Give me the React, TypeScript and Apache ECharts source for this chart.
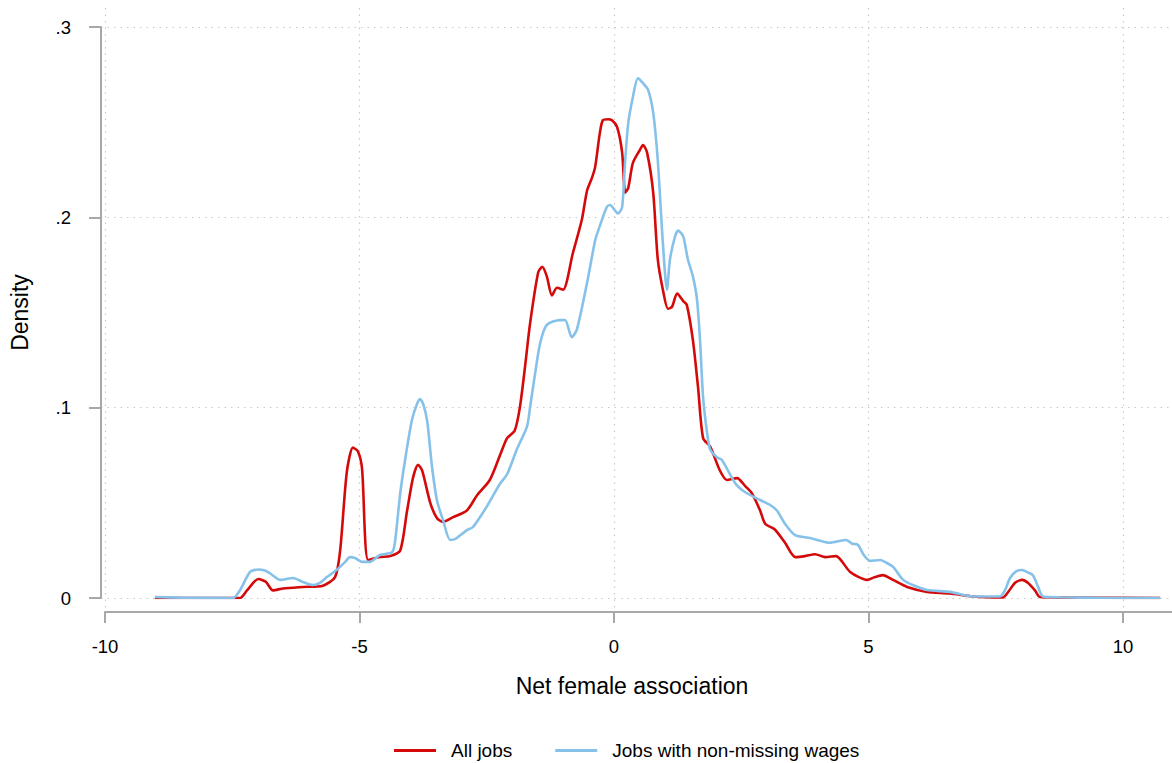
import React, { useEffect, useRef } from "react";
import * as echarts from "echarts";

// Net female association (x) and density (y)
const xAll = [
  -9.02, -7.35, -7.21, -6.99, -6.84, -6.7, -6.5, -6.11, -5.72, -5.48, -5.38, -5.25, -5.13, -5.03, -4.95,
  -4.83, -4.6, -4.4, -4.2, -4.07, -3.95, -3.85, -3.77, -3.61, -3.48, -3.36, -3.16, -2.89, -2.69, -2.44,
  -2.24, -2.1, -1.95, -1.85, -1.75, -1.65, -1.49, -1.41, -1.32, -1.22, -1.12, -1.0, -0.81, -0.63, -0.53,
  -0.43, -0.37, -0.28, -0.22, -0.12, -0.04, 0.06, 0.16, 0.22, 0.28, 0.37, 0.51, 0.57, 0.65, 0.77,
  0.86, 0.96, 1.06, 1.14, 1.24, 1.36, 1.43, 1.55, 1.65, 1.75, 1.89, 2.08, 2.22, 2.42, 2.57,
  2.71, 2.87, 2.97, 3.16, 3.36, 3.56, 3.75, 3.95, 4.15, 4.36, 4.64, 4.97, 5.13, 5.28, 5.48,
  5.76, 6.15, 6.6, 7.05, 7.64, 7.74, 7.88, 8.02, 8.13, 8.27, 8.37, 8.76, 9.55, 10.73,
];
const yAll = [
  0, 0, 0.004, 0.01, 0.0085, 0.004, 0.005, 0.0058, 0.0065, 0.011, 0.025, 0.066, 0.079, 0.077, 0.068,
  0.02, 0.0215, 0.022, 0.025, 0.045, 0.063, 0.07, 0.067, 0.05, 0.042, 0.04, 0.0425, 0.046, 0.054, 0.062,
  0.075, 0.084, 0.088, 0.1, 0.121, 0.144, 0.171, 0.174, 0.169, 0.159, 0.163, 0.162, 0.181, 0.199, 0.214,
  0.221, 0.2265, 0.244, 0.251, 0.2515, 0.251, 0.2475, 0.234, 0.213, 0.2155, 0.2285, 0.2355, 0.238, 0.234, 0.213,
  0.178, 0.162, 0.152, 0.153, 0.16, 0.156, 0.154, 0.1355, 0.111, 0.084, 0.0795, 0.067, 0.062, 0.063, 0.059,
  0.055, 0.046, 0.039, 0.036, 0.029, 0.0215, 0.022, 0.023, 0.0215, 0.022, 0.0137, 0.0095, 0.011, 0.012, 0.0095,
  0.0058, 0.0032, 0.0024, 0.0008, 0.0003, 0.003, 0.008, 0.0095, 0.008, 0.004, 0.0005, 0.0003, 0.0001, 0,
];

const xWages = [
  -9.02, -8.53, -7.49, -7.35, -7.15, -6.99, -6.86, -6.76, -6.56, -6.31, -6.11, -5.91, -5.78, -5.64, -5.44,
  -5.28, -5.19, -5.09, -4.95, -4.79, -4.6, -4.36, -4.3, -4.2, -4.09, -3.97, -3.87, -3.81, -3.75, -3.67,
  -3.58, -3.48, -3.36, -3.22, -3.12, -2.89, -2.77, -2.5, -2.24, -2.1, -1.91, -1.71, -1.65, -1.55, -1.45,
  -1.32, -1.06, -0.96, -0.83, -0.73, -0.53, -0.37, -0.31, -0.22, -0.14, -0.08, 0.08, 0.16, 0.22, 0.28,
  0.37, 0.47, 0.57, 0.67, 0.77, 0.86, 0.96, 1.04, 1.1, 1.2, 1.26, 1.36, 1.45, 1.55, 1.63,
  1.69, 1.75, 1.83, 1.89, 2.02, 2.12, 2.32, 2.42, 2.57, 2.87, 3.06, 3.2, 3.36, 3.56, 3.85,
  4.24, 4.56, 4.68, 4.79, 4.91, 5.03, 5.23, 5.36, 5.48, 5.68, 5.87, 6.15, 6.6, 7.05, 7.58,
  7.68, 7.78, 7.9, 8.02, 8.13, 8.23, 8.33, 8.43, 8.76, 9.55, 10.73,
];
const yWages = [
  0.0005, 0.0002, 0, 0.004, 0.0137, 0.015, 0.0145, 0.013, 0.0095, 0.0105, 0.0084, 0.0068, 0.0079, 0.011, 0.015,
  0.019, 0.0215, 0.021, 0.019, 0.019, 0.0226, 0.024, 0.03, 0.055, 0.075, 0.0935, 0.102, 0.1045, 0.102, 0.093,
  0.07, 0.0515, 0.041, 0.0305, 0.031, 0.0357, 0.0373, 0.048, 0.06, 0.065, 0.078, 0.09, 0.1, 0.118, 0.134,
  0.1435, 0.146, 0.146, 0.137, 0.141, 0.1655, 0.188, 0.193, 0.2, 0.2055, 0.2065, 0.202, 0.2055, 0.23, 0.2495,
  0.263, 0.273, 0.2705, 0.267, 0.255, 0.23, 0.1865, 0.162, 0.178, 0.19, 0.193, 0.19, 0.178, 0.169, 0.157,
  0.1355, 0.1055, 0.0865, 0.078, 0.074, 0.0725, 0.063, 0.059, 0.0557, 0.0515, 0.049, 0.046, 0.039, 0.033, 0.0315,
  0.029, 0.0305, 0.0285, 0.028, 0.0225, 0.0195, 0.02, 0.0184, 0.0165, 0.0095, 0.0068, 0.0042, 0.0032, 0.0008, 0.0008,
  0.004, 0.0105, 0.014, 0.0147, 0.0135, 0.012, 0.006, 0.0008, 0.0004, 0.0001, 0,
];

const xTicks = [-10, -5, 0, 5, 10];
const yTickLabels: Record<string, string> = { "0": "0", "0.1": ".1", "0.2": ".2", "0.3": ".3" };
const seriesNames = ["All jobs", "Jobs with non-missing wages"];

const FONT = "'Liberation Sans', Arial, sans-serif";
const GRID_COLOR = "#c9c9c9";
const AXIS_COLOR = "#a8a8a8";

export default function App() {
  const ref = useRef<HTMLDivElement>(null);
  useEffect(() => {
    if (!ref.current) return;
    const chart = echarts.init(ref.current, undefined, { renderer: "svg" });
    const pxPerUnit = 1018 / 20;
    const dataMax = -10 + 1065 / pxPerUnit;
    const dotted = { color: GRID_COLOR, width: 1.2, type: [1.5, 5] as number[] };
    chart.setOption({
      animation: false,
      backgroundColor: "#ffffff",
      textStyle: { fontFamily: FONT },
      grid: [
        { left: 105, top: 27, width: 1065, height: 571 }, // data
        { left: 105, top: 8, width: 1018, height: 604 }, // vertical grid + x ticks
        { left: 105, top: 8, width: 1067, height: 604 }, // long x axis line
        { left: 92, top: 27, width: 1078, height: 571 }, // horizontal grid + y axis
      ],
      xAxis: [
        { gridIndex: 0, type: "value", min: -10, max: dataMax, show: false },
        {
          gridIndex: 1,
          type: "value",
          min: xTicks[0],
          max: xTicks[xTicks.length - 1],
          interval: 5,
          offset: 4,
          axisLine: { show: false },
          axisTick: { show: true, length: 11, lineStyle: { color: AXIS_COLOR, width: 2 } },
          axisLabel: { margin: 21, fontSize: 18.5, color: "#000", fontFamily: FONT },
          splitLine: { show: true, lineStyle: dotted },
        },
        {
          gridIndex: 2,
          type: "value",
          min: 0,
          max: 1,
          offset: 4,
          axisLine: { show: true, lineStyle: { color: AXIS_COLOR, width: 2 } },
          axisTick: { show: false },
          axisLabel: { show: false },
          splitLine: { show: false },
        },
        { gridIndex: 3, type: "value", min: 0, max: 1, show: false },
      ],
      yAxis: [
        { gridIndex: 0, type: "value", min: 0, max: 0.3, show: false },
        { gridIndex: 1, type: "value", min: 0, max: 1, show: false },
        { gridIndex: 2, type: "value", min: 0, max: 1, show: false },
        {
          gridIndex: 3,
          type: "value",
          min: 0,
          max: 0.3,
          interval: 0.1,
          offset: 4,
          name: "Density",
          nameLocation: "middle",
          nameGap: 66,
          nameTextStyle: { fontSize: 23, color: "#000", fontFamily: FONT },
          axisLine: { show: true, lineStyle: { color: AXIS_COLOR, width: 2 } },
          axisTick: { show: true, length: 12, lineStyle: { color: AXIS_COLOR, width: 2 } },
          axisLabel: {
            margin: 26,
            fontSize: 18.5,
            color: "#000",
            fontFamily: FONT,
            formatter: (v: number) => yTickLabels[String(Math.round(v * 10) / 10)] ?? String(v),
          },
          splitLine: { show: true, lineStyle: dotted },
        },
      ],
      legend: {
        left: 389,
        top: 736,
        itemWidth: 42,
        itemHeight: 3,
        itemGap: 43,
        icon: "rect",
        textStyle: { fontSize: 19, color: "#000", fontFamily: FONT, padding: [0, 0, 0, 10] },
        data: seriesNames,
      },
      graphic: [
        {
          type: "text",
          x: 632,
          y: 686,
          style: {
            text: "Net female association",
            fontSize: 23,
            fontFamily: FONT,
            fill: "#000",
            align: "center",
            verticalAlign: "middle",
          },
        },
      ],
      series: [
        {
          name: seriesNames[0],
          type: "line",
          xAxisIndex: 0,
          yAxisIndex: 0,
          data: xAll.map((x, i) => [x, yAll[i]]),
          showSymbol: false,
          smooth: 0.25,
          color: "#d40a0a",
          lineStyle: { width: 2.6, color: "#d40a0a" },
          z: 3,
        },
        {
          name: seriesNames[1],
          type: "line",
          xAxisIndex: 0,
          yAxisIndex: 0,
          data: xWages.map((x, i) => [x, yWages[i]]),
          showSymbol: false,
          smooth: 0.25,
          color: "#86c1ea",
          lineStyle: { width: 2.6, color: "#86c1ea" },
          z: 4,
        },
      ],
    });
    return () => chart.dispose();
  }, []);
  return (
    <div
      ref={ref}
      style={{ position: "fixed", left: 0, top: 0, width: 1172, height: 763, background: "#fff" }}
    />
  );
}
